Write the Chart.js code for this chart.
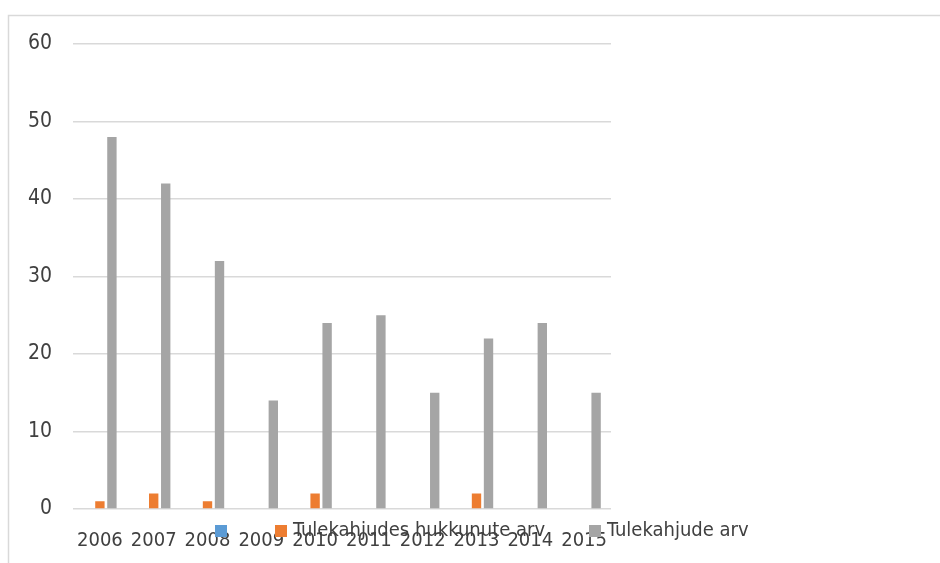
<!DOCTYPE html>
<html>
<head>
<meta charset="utf-8">
<script src="https://cdn.jsdelivr.net/npm/chart.js@4"></script>
<style>
  html, body { margin: 0; padding: 0; background: #fff; }
  #wrap { width: 940px; height: 563px; position: relative; }
</style>
</head>
<body>
<div id="wrap"><canvas id="grafico"></canvas></div>
<script>
const aastad = ['2006', '2007', '2008', '2009', '2010', '2011', '2012', '2013', '2014', '2015']
const tuhi = [0, 0, 0, 0, 0, 0, 0, 0, 0, 0]
const hukkunud = [1, 2, 1, 0, 2, 0, 0, 2, 0, 0]
const tulekahjud = [48, 42, 32, 14, 24, 25, 15, 22, 24, 15]
const nimed = ['', 'Tulekahjudes hukkunute arv', 'Tulekahjude arv']
const varvid = ['#5B9BD5', '#ED7D31', '#A5A5A5']

const FONT = '"DejaVu Sans Condensed", "DejaVu Sans", sans-serif'

// raam ümber diagrammi
const raam = {
  id: 'raam',
  beforeDraw(chart) {
    const c = chart.ctx
    c.save()
    c.strokeStyle = '#d9d9d9'
    c.lineWidth = 1.5
    c.strokeRect(8.5, 15.5, 1000, 1000)
    c.restore()
  }
}

// legend joonistatakse käsitsi, sest see kattub x-telje siltidega
const legend = {
  id: 'omaLegend',
  afterDraw(chart) {
    const c = chart.ctx
    const kohad = [215, 275, 589]
    c.save()
    c.font = '20px ' + FONT
    c.textBaseline = 'middle'
    chart.data.datasets.forEach((ds, i) => {
      c.fillStyle = ds.backgroundColor
      c.fillRect(kohad[i], 525, 12, 12)
      c.fillStyle = '#404040'
      c.fillText(ds.label, kohad[i] + 18, 531)
    })
    c.restore()
  }
}

const ctx = document.getElementById('grafico').getContext('2d')
new Chart(ctx, {
  type: 'bar',
  data: {
    labels: aastad,
    datasets: [
      { label: nimed[0], data: tuhi, backgroundColor: varvid[0] },
      { label: nimed[1], data: hukkunud, backgroundColor: varvid[1] },
      { label: nimed[2], data: tulekahjud, backgroundColor: varvid[2] }
    ]
  },
  options: {
    responsive: true,
    maintainAspectRatio: false,
    animation: false,
    categoryPercentage: 0.67,
    barPercentage: 0.78,
    layout: { padding: { left: 0, top: 44, right: 329, bottom: 0 } },
    plugins: {
      legend: { display: false },
      tooltip: { enabled: false }
    },
    scales: {
      x: {
        grid: { display: false, drawTicks: false },
        border: { display: false },
        ticks: { color: '#404040', font: { family: FONT, size: 20 }, padding: 20, maxRotation: 0, autoSkip: false },
        afterFit: s => { s.height = 54 }
      },
      y: {
        min: 0,
        max: 60,
        ticks: { stepSize: 10, color: '#404040', font: { family: FONT, size: 21 }, padding: 21 },
        grid: { color: '#d9d9d9', lineWidth: 1.5, drawTicks: false },
        border: { display: false },
        afterFit: s => { s.width = 73 }
      }
    }
  },
  plugins: [raam, legend]
})
</script>
</body>
</html>
